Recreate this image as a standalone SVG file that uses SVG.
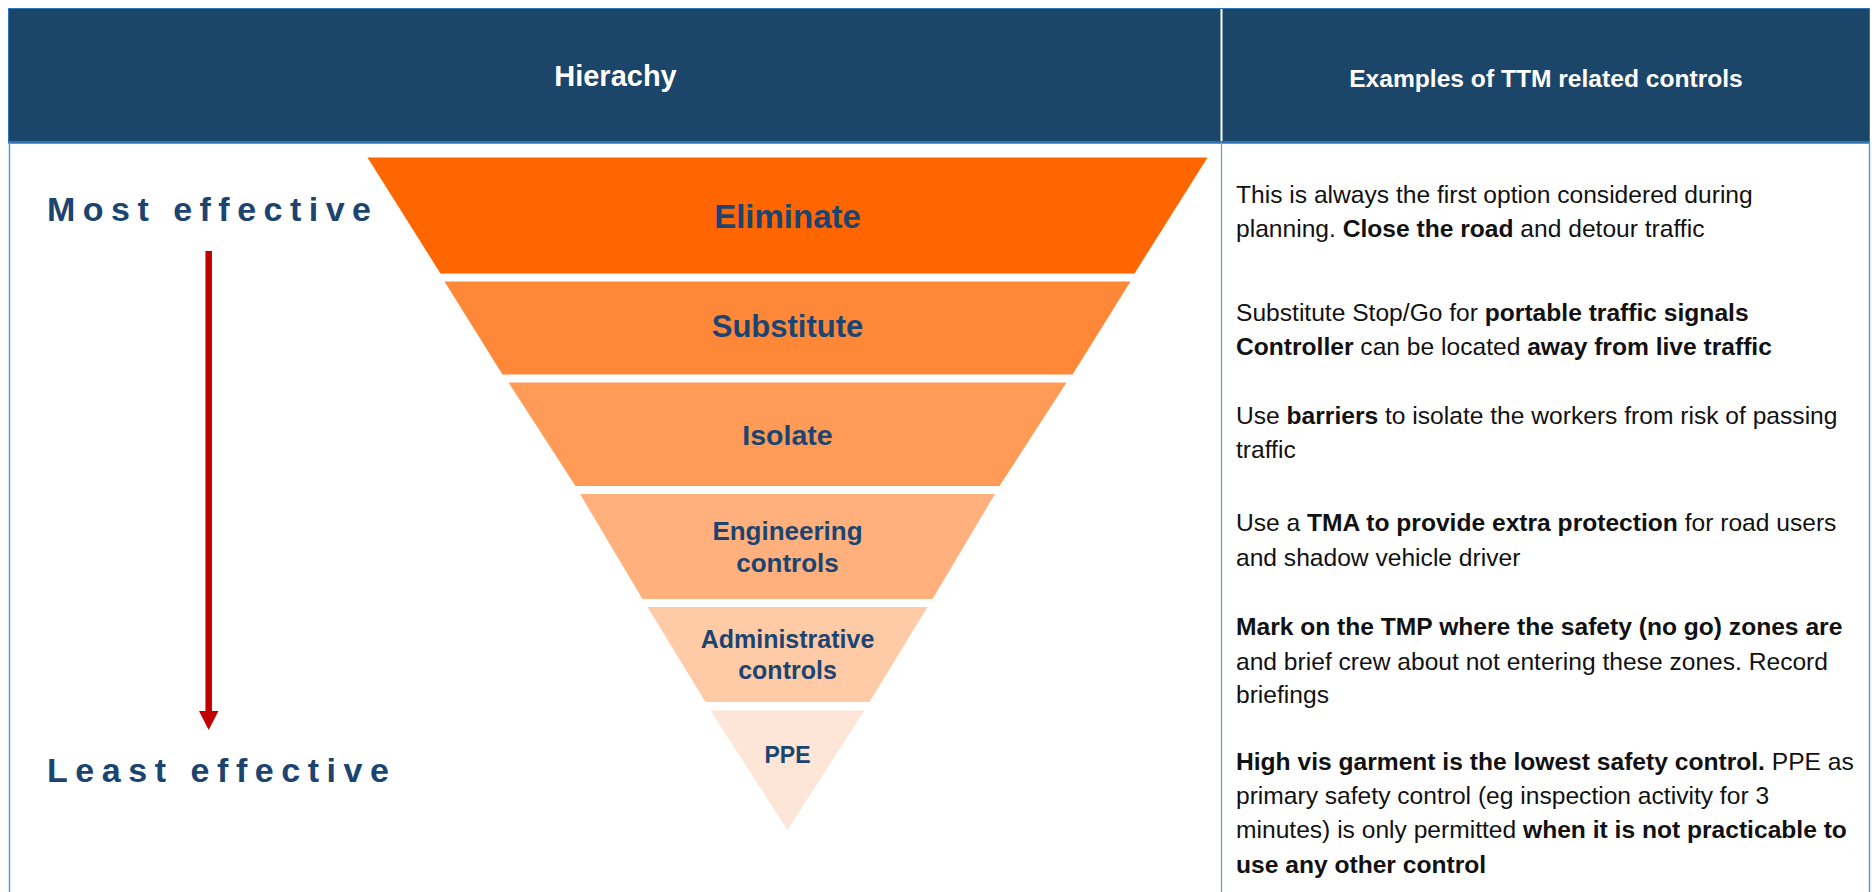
<svg xmlns="http://www.w3.org/2000/svg" width="1875" height="892" viewBox="0 0 1875 892">
<style>
.hdr{font-family:"Liberation Sans",Arial,sans-serif;font-weight:bold;fill:#ffffff;text-anchor:middle}
.lbl{font-family:"Liberation Sans",Arial,sans-serif;font-weight:bold;fill:#1c4470;text-anchor:middle}
.side{font-family:"Liberation Sans",Arial,sans-serif;font-weight:bold;fill:#1c4470;font-size:34px}
.ex{font-family:"Liberation Sans",Arial,sans-serif;font-size:24.6px;fill:#111111}
.b{font-weight:bold}
</style>
<defs>
<marker id="arrowhead" markerWidth="20" markerHeight="20" refX="0" refY="10" orient="auto" markerUnits="userSpaceOnUse" viewBox="0 0 20 20">
<polygon points="0,0.25 19,10 0,19.75" fill="#c00000"/>
</marker>
</defs>
<rect width="1875" height="892" fill="#ffffff"/>
<g id="table">
<rect x="8.5" y="8.5" width="1861" height="133" fill="#1b4569" stroke="#2e75b6" stroke-width="1"/>
<line x1="1221.5" y1="9" x2="1221.5" y2="141" stroke="#ffffff" stroke-width="2"/>
<line x1="8" y1="142.5" x2="1870" y2="142.5" stroke="#2e75b6" stroke-width="2.5"/>
<line x1="9.5" y1="142" x2="9.5" y2="892" stroke="#5b9bd5" stroke-width="1.5"/>
<line x1="1869.5" y1="142" x2="1869.5" y2="892" stroke="#5b9bd5" stroke-width="1.5"/>
<line x1="1221.5" y1="142" x2="1221.5" y2="892" stroke="#5b9bd5" stroke-width="1.2"/>
</g>
<g id="header-hierarchy"><text class="hdr" x="615.5" y="86" font-size="29">Hierachy</text></g>
<g id="header-examples"><text class="hdr" x="1546" y="87" font-size="24.6">Examples of TTM related controls</text></g>
<g id="most-effective"><text class="side" x="47" y="221" textLength="324" lengthAdjust="spacing">Most effective</text></g>
<g id="least-effective"><text class="side" x="47" y="782" textLength="342" lengthAdjust="spacing">Least effective</text></g>
<g id="connectors">
<line x1="208.7" y1="251" x2="208.7" y2="711" stroke="#c00000" stroke-width="6.5" marker-end="url(#arrowhead)"/>
</g>
<g id="eliminate">
<polygon points="367.5,157.5 1207.5,157.5 1134.5,273.5 440.5,273.5" fill="#ff6600"/>
<text class="lbl" x="787.5" y="228" font-size="33">Eliminate</text>
</g>
<g id="substitute">
<polygon points="444.5,281.5 1130.5,281.5 1072.5,374.5 502.5,374.5" fill="#ff8838"/>
<text class="lbl" x="787.5" y="337" font-size="31">Substitute</text>
</g>
<g id="isolate">
<polygon points="508.5,382.5 1066.5,382.5 999.5,486 575.5,486" fill="#ff9b56"/>
<text class="lbl" x="787.5" y="445" font-size="28.5">Isolate</text>
</g>
<g id="engineering">
<polygon points="580,494 995,494 932.5,599 642.5,599" fill="#ffb07c"/>
<text class="lbl" x="787.5" y="539.5" font-size="26">Engineering</text>
<text class="lbl" x="787.5" y="571.5" font-size="26">controls</text>
</g>
<g id="administrative">
<polygon points="647.5,607 927.5,607 869.5,702 705.5,702" fill="#ffcba7"/>
<text class="lbl" x="787.5" y="648.3" font-size="25">Administrative</text>
<text class="lbl" x="787.5" y="679" font-size="25">controls</text>
</g>
<g id="ppe">
<polygon points="710.5,710.5 864.5,710.5 787.5,830" fill="#fde6d7"/>
<text class="lbl" x="787.5" y="763.3" font-size="23">PPE</text>
</g>
<g id="example-eliminate">
<text class="ex" x="1236" y="203.3">This is always the first option considered during</text>
<text class="ex" x="1236" y="236.7">planning. <tspan class="b">Close the road</tspan> and detour traffic</text>
</g>
<g id="example-substitute">
<text class="ex" x="1236" y="320.5">Substitute Stop/Go for <tspan class="b">portable traffic signals</tspan></text>
<text class="ex" x="1236" y="355"><tspan class="b">Controller</tspan> can be located <tspan class="b">away from live traffic</tspan></text>
</g>
<g id="example-isolate">
<text class="ex" x="1236" y="424">Use <tspan class="b">barriers</tspan> to isolate the workers from risk of passing</text>
<text class="ex" x="1236" y="458.3">traffic</text>
</g>
<g id="example-engineering">
<text class="ex" x="1236" y="531">Use a <tspan class="b">TMA to provide extra protection</tspan> for road users</text>
<text class="ex" x="1236" y="565.7">and shadow vehicle driver</text>
</g>
<g id="example-administrative">
<text class="ex" x="1236" y="635"><tspan class="b">Mark on the TMP where the safety (no go) zones are</tspan></text>
<text class="ex" x="1236" y="669.5">and brief crew about not entering these zones. Record</text>
<text class="ex" x="1236" y="703.3">briefings</text>
</g>
<g id="example-ppe">
<text class="ex" x="1236" y="770"><tspan class="b">High vis garment is the lowest safety control.</tspan> PPE as</text>
<text class="ex" x="1236" y="804">primary safety control (eg inspection activity for 3</text>
<text class="ex" x="1236" y="838.3">minutes) is only permitted <tspan class="b">when it is not practicable to</tspan></text>
<text class="ex" x="1236" y="872.7"><tspan class="b">use any other control</tspan></text>
</g>
</svg>
